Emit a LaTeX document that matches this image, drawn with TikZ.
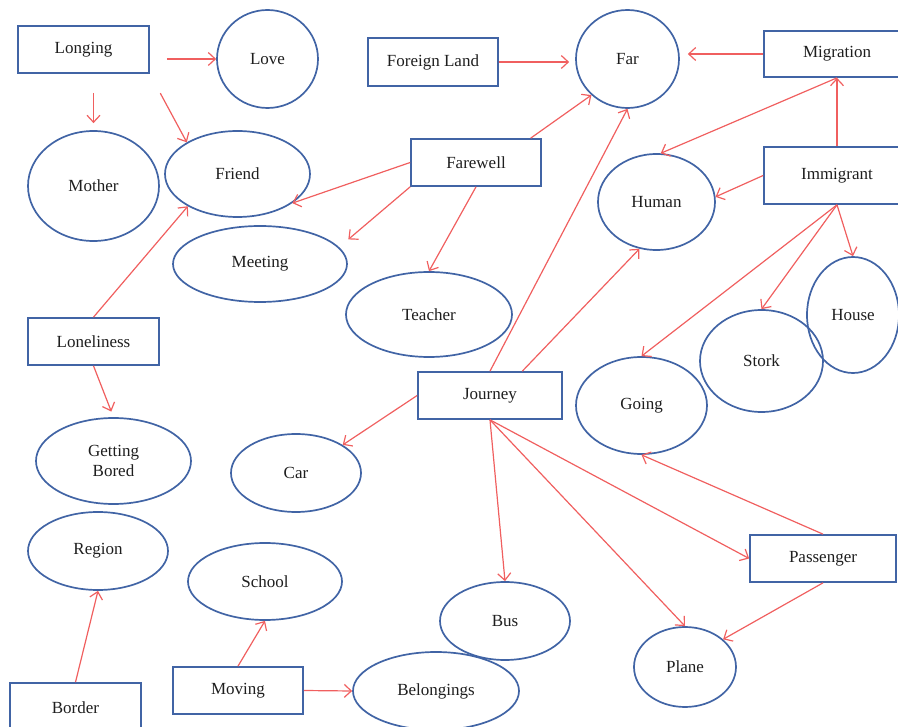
\documentclass[tikz,border=0pt]{standalone}
\usepackage{fontspec}
\setmainfont{Liberation Serif}
\usepackage{tikz}
\usetikzlibrary{shapes}
\usetikzlibrary{arrows}
\usetikzlibrary{arrows.meta}

\definecolor{edgeblue}{RGB}{65,100,165}
\definecolor{linkred}{RGB}{240,95,95}
\definecolor{ink}{RGB}{30,30,30}

\begin{document}
\begin{tikzpicture}[x=1pt,y=-1pt]
			\tikzstyle{every node}=[font=\fontsize{17}{20}\selectfont,text=ink]
			\tikzstyle{concept}=[rectangle,draw=edgeblue,line width=1.7pt,minimum width=130pt,minimum height=47pt]
			\tikzstyle{idea}=[ellipse,draw=edgeblue,line width=1.7pt,inner sep=0pt]
			\tikzstyle{link}=[draw=linkred,line width=1.2pt,-{Straight Barb[length=7pt,width=13pt]}]

			\useasboundingbox (0,0) rectangle (898,727);
			\clip (0,0) rectangle (898,727);

			% boxes
			\node[concept,minimum width=131pt] (longing) at (83.5,49.5) {Longing};
			\node[concept,minimum height=48pt] (foreign) at (433,62) {Foreign Land};
			\node[concept,minimum width=146pt,minimum height=46pt] (migration) at (837,54) {Migration};
			\node[concept] (farewell) at (476,162.5) {Farewell};
			\node[concept,minimum width=146pt,minimum height=57pt] (immigrant) at (837,175.5) {Immigrant};
			\node[concept,minimum width=131pt] (loneliness) at (93.5,341.5) {Loneliness};
			\node[concept,minimum width=144pt] (journey) at (490,395.5) {Journey};
			\node[concept,minimum width=146pt] (passenger) at (823,558.5) {Passenger};
			\node[concept,minimum width=131pt,minimum height=50pt] (border) at (75.5,708) {Border};
			\node[concept] (moving) at (238,690.5) {Moving};

			% ellipses
			\node[idea,minimum width=101pt,minimum height=98pt] (love) at (267.5,59) {Love};
			\node[idea,minimum width=103pt,minimum height=98pt] (far) at (627.5,59) {Far};
			\node[idea,minimum width=131pt,minimum height=110pt] (mother) at (93.5,186) {Mother};
			\node[idea,minimum width=145pt,minimum height=86pt] (friend) at (237.5,174) {Friend};
			\node[idea,minimum width=117pt,minimum height=96pt] (human) at (656.5,202) {Human};
			\node[idea,minimum width=174pt,minimum height=76pt] (meeting) at (260,264) {Meeting};
			\node[idea,minimum width=166pt,minimum height=85pt] (teacher) at (429,314.5) {Teacher};
			\node[idea,minimum width=92pt,minimum height=116pt] (house) at (853,315) {House};
			\node[idea,minimum width=123pt,minimum height=102pt] (stork) at (761.5,361) {Stork};
			\node[idea,minimum width=131pt,minimum height=97pt] (going) at (641.5,405.5) {Going};
			\node[idea,minimum width=155pt,minimum height=86pt,align=center] (bored) at (113.5,461) {Getting\\Bored};
			\node[idea,minimum width=130pt,minimum height=78pt] (car) at (296,473) {Car};
			\node[idea,minimum width=140pt,minimum height=78pt] (region) at (98,551) {Region};
			\node[idea,minimum width=154pt,minimum height=77pt] (school) at (265,581.5) {School};
			\node[idea,minimum width=130pt,minimum height=78pt] (bus) at (505,621) {Bus};
			\node[idea,minimum width=166pt,minimum height=78pt] (belongings) at (436,691) {Belongings};
			\node[idea,minimum width=102pt,minimum height=80pt] (plane) at (685,667) {Plane};

			% links
			\draw[link,shorten <=17pt] (longing.east |- love) -- (love.west);
			\draw[link,shorten <=19pt,shorten >=7pt] (longing.south -| mother) -- (mother.north);
			\draw[link,shorten <=22pt] (longing.south east) -- (friend.148);
			\draw[link,shorten >=6pt] (foreign.east) -- (far.west |- foreign.east);
			\draw[link,shorten >=8pt] (migration.west) -- (far.east |- migration.west);
			\draw[link] (farewell.24) -- (far.225);
			\draw[link] (farewell.west) -- (friend.332);
			\draw[link,shorten >=12pt] (farewell.south west) -- (meeting.12);
			\draw[link] (farewell.south) -- (teacher.north);
			\draw[link] (migration.south) -- (human.85);
			\draw[link] (immigrant.north) -- (migration.south);
			\draw[link] (immigrant.west) -- (human.5);
			\draw[link] (immigrant.south) -- (house.north);
			\draw[link] (immigrant.south) -- (stork.north);
			\draw[link] (immigrant.south) -- (going.north);
			\draw[link] (journey.north) -- (far.south);
			\draw[link] (journey.37) -- (human.250);
			\draw[link] (journey.west) -- (car.31);
			\draw[link] (journey.south) -- (bus.north);
			\draw[link] (journey.south) -- (plane.north);
			\draw[link] (journey.south) -- (passenger.west);
			\draw[link] (passenger.north) -- (going.south);
			\draw[link] (passenger.south) -- (plane.36);
			\draw[link] (loneliness.north) -- (friend.213);
			\draw[link,shorten >=6pt] (loneliness.south) -- (bored.north);
			\draw[link] (border.north) -- (region.south);
			\draw[link] (moving.north) -- (school.south);
			\draw[link] (moving.east) -- (belongings.west);
\end{tikzpicture}
\end{document}
